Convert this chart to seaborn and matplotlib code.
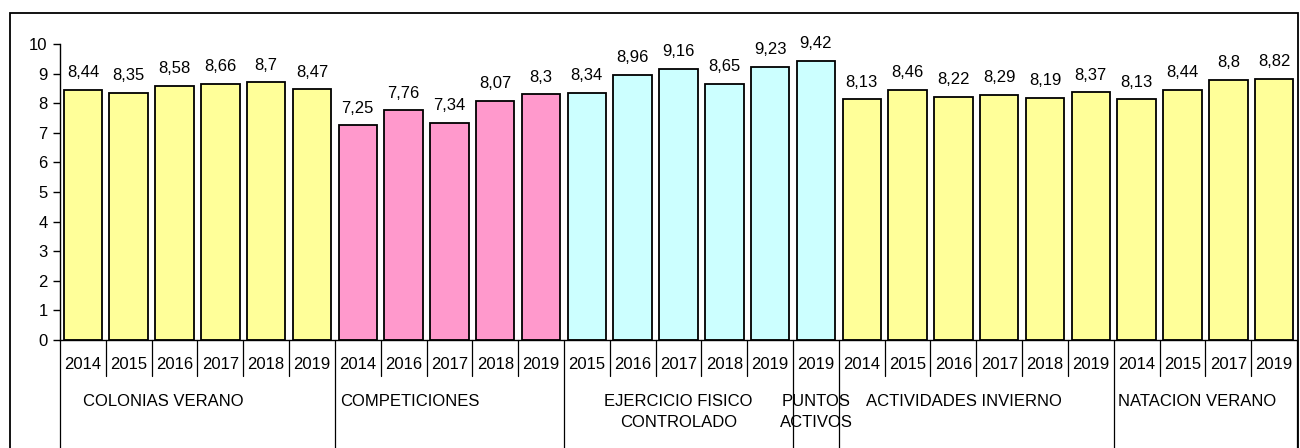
import numpy as np
import pandas as pd
import matplotlib
matplotlib.use('Agg')
import matplotlib.pyplot as plt
import matplotlib.transforms as mtransforms
from matplotlib.patches import Rectangle
import seaborn as sns

# datos del gráfico
grupos = ['COLONIAS VERANO', 'COMPETICIONES', 'EJERCICIO FISICO\nCONTROLADO',
          'PUNTOS\nACTIVOS', 'ACTIVIDADES INVIERNO', 'NATACION VERANO']
anios = [
    ['2014', '2015', '2016', '2017', '2018', '2019'],
    ['2014', '2016', '2017', '2018', '2019'],
    ['2015', '2016', '2017', '2018', '2019'],
    ['2019'],
    ['2014', '2015', '2016', '2017', '2018', '2019'],
    ['2014', '2015', '2017', '2019'],
]
valores = [
    [8.44, 8.35, 8.58, 8.66, 8.7, 8.47],
    [7.25, 7.76, 7.34, 8.07, 8.3],
    [8.34, 8.96, 9.16, 8.65, 9.23],
    [9.42],
    [8.13, 8.46, 8.22, 8.29, 8.19, 8.37],
    [8.13, 8.44, 8.8, 8.82],
]
colores = {
    'COLONIAS VERANO': '#FFFF99',
    'COMPETICIONES': '#FF99CC',
    'EJERCICIO FISICO\nCONTROLADO': '#CCFFFF',
    'PUNTOS\nACTIVOS': '#CCFFFF',
    'ACTIVIDADES INVIERNO': '#FFFF99',
    'NATACION VERANO': '#FFFF99',
}
# desplazamiento horizontal del texto de cada grupo respecto a su centro (en barras)
desplaz_etiqueta = [-0.75, -0.86, 0.0, 0.0, -0.26, -0.17]

rows = []
for g, ys, vs in zip(grupos, anios, valores):
    for y, v in zip(ys, vs):
        rows.append({'grupo': g, 'anio': y, 'valor': v})
df = pd.DataFrame(rows)
df['idx'] = range(len(df))
n = len(df)

sns.set_style('white')
plt.rcParams['font.family'] = ['Liberation Sans', 'DejaVu Sans']
plt.rcParams['text.color'] = 'black'
plt.rcParams['xtick.color'] = 'black'
plt.rcParams['ytick.color'] = 'black'
fs = 12

fig = plt.figure(figsize=(13, 4.48), dpi=100)
ax = fig.add_axes([60 / 1300, 1 - 340 / 448, (1297 - 60) / 1300, (340 - 44) / 448])

sns.barplot(data=df, x='idx', y='valor', hue='grupo', palette=colores,
            dodge=False, width=0.84, edgecolor='black', linewidth=1.3,
            saturation=1, legend=False, ax=ax)

for c in ax.containers:
    ax.bar_label(c, fmt=lambda v: '' if np.isnan(v) else f'{v:g}'.replace('.', ','),
                 padding=7, fontsize=fs, color='black', clip_on=False)

ax.set_xlim(-0.5, n - 0.5)
ax.set_ylim(0, 10)
ax.set_yticks(range(0, 11))
ax.tick_params(axis='y', direction='out', length=5, width=1, pad=4, labelsize=fs, left=True)
ax.set_xticks(range(n))
ax.set_xticklabels(df['anio'])
ax.tick_params(axis='x', length=0, pad=12, labelsize=fs)
ax.set_xlabel('')
ax.set_ylabel('')
for s in ['top', 'right']:
    ax.spines[s].set_visible(False)
for s in ['left', 'bottom']:
    ax.spines[s].set_color('black')
    ax.spines[s].set_linewidth(1)

# separadores del eje de categorías
trans = mtransforms.blended_transform_factory(ax.transData, ax.transAxes)
limites = np.cumsum([0] + [len(a) for a in anios])
for i in range(n + 1):
    bajo = -0.40 if i in limites else -0.122
    ax.plot([i - 0.5, i - 0.5], [0, bajo], transform=trans, color='black',
            lw=0.9, clip_on=False)

# etiquetas de grupo
for k, g in enumerate(grupos):
    centro = (limites[k] + limites[k + 1] - 1) / 2 + desplaz_etiqueta[k]
    ax.text(centro, -0.182, g, transform=trans, ha='center', va='top',
            fontsize=fs, linespacing=1.5, color='black')

# marco exterior
fig.add_artist(Rectangle((10 / 1300, -0.05), (1298 - 10) / 1300, 1 - 13 / 448 + 0.05,
                         transform=fig.transFigure, fill=False, edgecolor='black', lw=1.3))

fig.savefig('out.png', dpi=100)
